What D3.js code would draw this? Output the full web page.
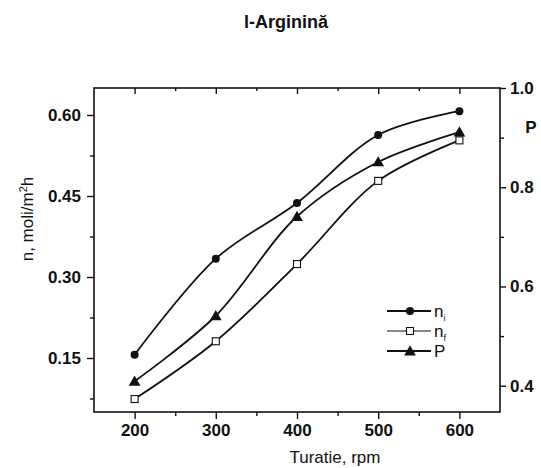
<!DOCTYPE html>
<html>
<head>
<meta charset="utf-8">
<script src="https://d3js.org/d3.v7.min.js"></script>
<style>
  body { margin: 0; background: #fff; font-family: Arial, "Liberation Sans", sans-serif; }
  svg text { font-family: Arial, "Liberation Sans", sans-serif; fill: #111; }
  .tick text { font-size: 17px; font-weight: bold; }
</style>
</head>
<body>
<div id="chart"></div>
<script>
const turatie = [200, 300, 400, 500, 600];
const nI = [0.156, 0.334, 0.437, 0.563, 0.607];
const nF = [0.074, 0.181, 0.324, 0.478, 0.553];
const pVals = [0.409, 0.541, 0.741, 0.851, 0.911];
const xTicks = [200, 300, 400, 500, 600];
const yLeftTicks = [0.15, 0.30, 0.45, 0.60];
const yRightTicks = [0.4, 0.6, 0.8, 1.0];

const W = 541, H = 468;
const m = { left: 94, right: 41, top: 88, bottom: 56 };
const w = W - m.left - m.right, h = H - m.top - m.bottom;

const svg = d3.select("#chart").append("svg").attr("width", W).attr("height", H);
const g = svg.append("g").attr("transform", `translate(${m.left},${m.top})`);

const x = d3.scaleLinear().domain([150, 650]).range([0, w]);
const yL = d3.scaleLinear().domain([0.05, 0.65]).range([h, 0]);
const yR = d3.scaleLinear().domain([0.347, 1.0]).range([h, 0]);

// frame
g.append("rect").attr("width", w).attr("height", h)
  .attr("fill", "none").attr("stroke", "#111").attr("stroke-width", 1.6);

function styleAxis(sel) {
  sel.select(".domain").remove();
  sel.selectAll("line").attr("stroke", "#111").attr("stroke-width", 1.4);
}

// bottom axis
g.append("g").attr("transform", `translate(0,${h})`)
  .call(d3.axisBottom(x).tickValues(xTicks).tickSize(7).tickPadding(5))
  .call(styleAxis);
g.append("g").attr("transform", `translate(0,${h})`)
  .call(d3.axisBottom(x).tickValues([250, 350, 450, 550]).tickSize(4).tickFormat(""))
  .call(styleAxis);
// top axis, ticks pointing in
g.append("g")
  .call(d3.axisBottom(x).tickValues(xTicks).tickSize(6).tickFormat(""))
  .call(styleAxis);
g.append("g")
  .call(d3.axisBottom(x).tickValues([250, 350, 450, 550]).tickSize(3).tickFormat(""))
  .call(styleAxis);

// left axis
g.append("g")
  .call(d3.axisLeft(yL).tickValues(yLeftTicks).tickSize(7).tickPadding(6).tickFormat(d3.format(".2f")))
  .call(styleAxis);
g.append("g")
  .call(d3.axisLeft(yL).tickValues([0.075, 0.225, 0.375, 0.525]).tickSize(4).tickFormat(""))
  .call(styleAxis);

// right axis
g.append("g").attr("transform", `translate(${w},0)`)
  .call(d3.axisRight(yR).tickValues(yRightTicks).tickSize(6).tickPadding(4).tickFormat(d3.format(".1f")))
  .call(styleAxis);
g.append("g").attr("transform", `translate(${w},0)`)
  .call(d3.axisRight(yR).tickValues([0.5, 0.7, 0.9]).tickSize(4).tickFormat(""))
  .call(styleAxis);

// labels
svg.append("text").attr("x", 286).attr("y", 28).attr("text-anchor", "middle")
  .attr("font-size", 18).attr("font-weight", "bold").text("l-Arginină");
svg.append("text").attr("x", 335).attr("y", 463).attr("text-anchor", "middle")
  .attr("font-size", 17).text("Turatie, rpm");
const yl = svg.append("text").attr("transform", "translate(33,219) rotate(-90)")
  .attr("text-anchor", "middle").attr("font-size", 17);
yl.append("tspan").text("n, moli/m");
yl.append("tspan").attr("dy", -6).attr("font-size", 11).text("2");
yl.append("tspan").attr("dy", 6).text("h");
svg.append("text").attr("x", 531).attr("y", 133).attr("text-anchor", "middle")
  .attr("font-size", 17).attr("font-weight", "bold").text("P");

// curves
const lineL = d3.line().x((d, i) => x(turatie[i])).y(d => yL(d)).curve(d3.curveCatmullRom.alpha(0.5));
const lineR = d3.line().x((d, i) => x(turatie[i])).y(d => yR(d)).curve(d3.curveCatmullRom.alpha(0.5));

g.append("path").attr("d", lineL(nI)).attr("fill", "none").attr("stroke", "#111").attr("stroke-width", 1.8);
g.append("path").attr("d", lineL(nF)).attr("fill", "none").attr("stroke", "#111").attr("stroke-width", 1.8);
g.append("path").attr("d", lineR(pVals)).attr("fill", "none").attr("stroke", "#111").attr("stroke-width", 1.8);

const tri = d3.symbol().type(d3.symbolTriangle).size(60);

g.selectAll(".mi").data(nI).join("circle")
  .attr("cx", (d, i) => x(turatie[i])).attr("cy", d => yL(d)).attr("r", 4).attr("fill", "#111");
g.selectAll(".mf").data(nF).join("rect")
  .attr("x", (d, i) => x(turatie[i]) - 3.5).attr("y", d => yL(d) - 3.5)
  .attr("width", 7).attr("height", 7).attr("fill", "#fff").attr("stroke", "#111").attr("stroke-width", 1.1);
g.selectAll(".mp").data(pVals).join("path")
  .attr("d", tri).attr("transform", (d, i) => `translate(${x(turatie[i])},${yR(d) + 1})`).attr("fill", "#111");

// legend
const leg = svg.append("g").attr("transform", "translate(387,311)");
const items = ["i", "f", "P"];
items.forEach((k, i) => {
  const row = leg.append("g").attr("transform", `translate(0,${i * 20})`);
  row.append("line").attr("x1", 0).attr("x2", 44).attr("stroke", "#111")
    .attr("stroke-width", k === "f" ? 1.2 : 1.8);
  if (k === "i") row.append("circle").attr("cx", 23).attr("r", 4).attr("fill", "#111");
  if (k === "f") row.append("rect").attr("x", 19.5).attr("y", -3.5).attr("width", 7).attr("height", 7)
    .attr("fill", "#fff").attr("stroke", "#111").attr("stroke-width", 1.1);
  if (k === "P") row.append("path").attr("d", tri).attr("transform", "translate(23,1)").attr("fill", "#111");
  const t = row.append("text").attr("x", 47).attr("y", 6).attr("font-size", 17);
  if (k === "P") t.text("P");
  else { t.append("tspan").text("n"); t.append("tspan").attr("dy", 4).attr("font-size", 9).text(k); }
});
</script>
</body>
</html>
